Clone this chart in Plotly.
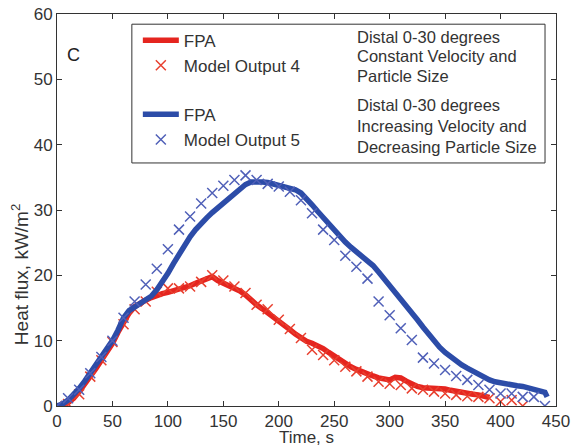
import plotly.graph_objects as go

# FPA, distal 0-30 degrees (red) - sampled every 5 s
fpa4_t = [0, 5, 10, 15, 20, 25, 30, 35, 40, 45, 50, 55, 60, 65, 70, 75, 80, 85, 90, 95,
          100, 105, 110, 115, 120, 125, 130, 135, 140, 145, 150, 155, 160, 165, 170, 175,
          180, 185, 190, 195, 200, 205, 210, 215, 220, 225, 230, 235, 240, 245, 250, 255,
          260, 265, 270, 275, 280, 285, 290, 295, 300, 305, 310, 315, 320, 325, 330, 335,
          340, 345, 350, 355, 360, 365, 370, 375, 380, 385, 390]
fpa4_q = [0, 0.1, 0.5, 1.2, 2.2, 3.3, 4.5, 5.7, 7.0, 8.2, 9.6, 11.3, 12.8, 14.2, 15.2, 15.8,
          16.2, 16.6, 17.0, 17.2, 17.4, 17.6, 17.8, 18.1, 18.4, 18.8, 19.1, 19.5, 19.8, 19.2,
          18.8, 18.4, 18.1, 17.6, 17.0, 16.2, 15.5, 14.9, 14.3, 13.6, 13.0, 12.3, 11.7, 11.0,
          10.4, 9.9, 9.6, 9.3, 8.8, 8.2, 7.6, 7.0, 6.4, 6.0, 5.6, 5.2, 4.9, 4.6, 4.3, 4.1,
          4.0, 4.4, 4.3, 3.8, 3.3, 3.0, 2.8, 2.8, 2.7, 2.6, 2.6, 2.4, 2.2, 2.0, 1.9, 1.8,
          1.7, 1.5, 1.3]

# Model Output 4 - every 10 s
mod4_t = [0, 10, 20, 30, 40, 50, 60, 70, 80, 90, 100, 110, 120, 130, 140, 150, 160, 170,
          180, 190, 200, 210, 220, 230, 240, 250, 260, 270, 280, 290, 300, 310, 320, 330,
          340, 350, 360, 370, 380, 390, 400, 410, 420]
mod4_q = [0, 0.3, 1.8, 4.5, 7.0, 9.8, 12.5, 14.8, 16.0, 17.5, 18.0, 18.0, 18.3, 19.0, 20.0,
          19.2, 18.3, 17.3, 15.5, 14.8, 13.2, 11.8, 10.4, 8.6, 7.8, 7.0, 6.0, 5.3, 4.5, 3.7,
          3.4, 3.2, 2.7, 2.5, 2.2, 1.9, 1.7, 1.5, 1.4, 1.2, 0.7, 0.9, 0]

# FPA (blue) - sampled every 5 s
fpa5_t = [0, 5, 10, 15, 20, 25, 30, 35, 40, 45, 50, 55, 60, 65, 70, 75, 80, 85, 90, 95,
          100, 105, 110, 115, 120, 125, 130, 135, 140, 145, 150, 155, 160, 165, 170, 175,
          180, 185, 190, 195, 200, 205, 210, 215, 220, 225, 230, 235, 240, 245, 250, 255,
          260, 265, 270, 275, 280, 285, 290, 295, 300, 305, 310, 315, 320, 325, 330, 335,
          340, 345, 350, 355, 360, 365, 370, 375, 380, 385, 390, 395, 400, 405, 410, 415,
          420, 425, 430, 435, 440, 442]
fpa5_q = [0, 0.3, 0.9, 1.7, 2.7, 3.8, 5.0, 6.2, 7.4, 8.6, 10.0, 11.6, 13.5, 14.6, 15.2,
          15.7, 16.2, 16.8, 17.8, 19.0, 20.3, 21.8, 23.3, 24.7, 25.9, 27.0, 28.0, 28.8,
          29.6, 30.3, 31.0, 31.8, 32.6, 33.3, 33.9, 34.3, 34.4, 34.3, 34.2, 34.0, 33.9,
          33.7, 33.5, 33.1, 32.6, 31.8, 30.8, 29.8, 28.8, 27.8, 26.9, 26.0, 25.1, 24.3,
          23.6, 22.9, 22.3, 21.5, 20.5, 19.5, 18.4, 17.3, 16.3, 15.3, 14.2, 13.2, 12.1,
          11.0, 9.9, 9.0, 8.2, 7.5, 6.9, 6.3, 5.8, 5.3, 4.8, 4.4, 4.0, 3.7, 3.5, 3.3, 3.2,
          3.1, 3.0, 2.8, 2.6, 2.4, 2.1, 1.4]

# Model Output 5 - every 10 s
mod5_t = [0, 10, 20, 30, 40, 50, 60, 70, 80, 90, 100, 110, 120, 130, 140, 150, 160, 170,
          180, 190, 200, 210, 220, 230, 240, 250, 260, 270, 280, 290, 300, 310, 320, 330,
          340, 350, 360, 370, 380, 390, 400, 410, 420, 430, 440]
mod5_q = [0, 1.2, 2.5, 5.0, 7.5, 10.0, 13.5, 16.0, 18.6, 21.0, 24.0, 27.0, 29.0, 31.0,
          32.6, 33.7, 34.6, 35.3, 34.6, 34.0, 33.6, 32.8, 31.5, 29.5, 27.0, 25.4, 23.0,
          21.3, 19.5, 16.0, 13.9, 11.9, 10.1, 7.4, 6.5, 5.5, 4.6, 4.0, 3.2, 2.5, 1.9, 1.9,
          1.4, 1.4, 0]

desc_lines = ["Distal 0-30 degrees", "Constant Velocity and", "Particle Size",
              "Distal 0-30 degrees", "Increasing Velocity and", "Decreasing Particle Size"]
desc_y = [0.941, 0.892, 0.841, 0.767, 0.714, 0.660]

RED = "#e5251f"
BLUE = "#2c4ca8"
font = "Liberation Sans, Arial, sans-serif"

fig = go.Figure()
fig.add_trace(go.Scatter(x=fpa4_t, y=fpa4_q, mode="lines", name="FPA", legendgroup="a",
                         line=dict(color=RED, width=5.5)))
fig.add_trace(go.Scatter(x=mod4_t, y=mod4_q, mode="markers", name="Model Output 4",
                         legendgroup="a",
                         marker=dict(symbol="x-thin", size=10,
                                     line=dict(color="#e8402f", width=1.5))))
fig.add_trace(go.Scatter(x=fpa5_t, y=fpa5_q, mode="lines", name="FPA", legendgroup="b",
                         line=dict(color=BLUE, width=5.5)))
fig.add_trace(go.Scatter(x=mod5_t, y=mod5_q, mode="markers", name="Model Output 5",
                         legendgroup="b",
                         marker=dict(symbol="x-thin", size=10,
                                     line=dict(color="#5060b8", width=1.5))))

axis_style = dict(showline=True, linecolor="#333", linewidth=1, mirror="ticks",
                  ticks="inside", ticklen=5, tickcolor="#333", showgrid=False,
                  zeroline=False, automargin=False,
                  tickfont=dict(size=17, color="#333", family=font))

fig.update_xaxes(range=[0, 450], dtick=50, title=dict(text="Time, s", standoff=2,
                 font=dict(size=17, color="#333", family=font)), **axis_style)
fig.update_yaxes(range=[0, 60], dtick=10, **axis_style)

for txt, y in zip(desc_lines, desc_y):
    fig.add_annotation(x=0.597, y=y, xref="paper", yref="paper", text=txt,
                       showarrow=False, xanchor="left", yanchor="middle",
                       font=dict(size=16.5, color="#333", family=font))

fig.add_annotation(x=-0.074, y=0.334, xref="paper", yref="paper",
                   text="Heat flux, kW/m<sup>2</sup>", textangle=-90, showarrow=False,
                   xanchor="center", yanchor="middle",
                   font=dict(size=19, color="#333", family=font))
fig.add_annotation(x=0.016, y=0.926, xref="paper", yref="paper", text="C",
                   showarrow=False, xanchor="left",
                   font=dict(size=18, color="#222", family=font))

fig.add_shape(type="rect", xref="paper", yref="paper", x0=0.150, x1=0.978,
              y0=0.620, y1=0.974, line=dict(color="#333", width=1))

fig.update_layout(
    width=572, height=447,
    margin=dict(l=57, r=16, t=14, b=41, autoexpand=False),
    plot_bgcolor="white", paper_bgcolor="white",
    font=dict(family=font, color="#333"),
    legend=dict(x=0.162, y=0.978, xanchor="left", yanchor="top",
                bgcolor="rgba(0,0,0,0)", traceorder="grouped", tracegroupgap=24,
                itemwidth=36,
                font=dict(size=17, color="#333", family=font)),
)

fig.write_html("out.html", config={"displayModeBar": False},
               post_script="document.body.style.margin='0';")
